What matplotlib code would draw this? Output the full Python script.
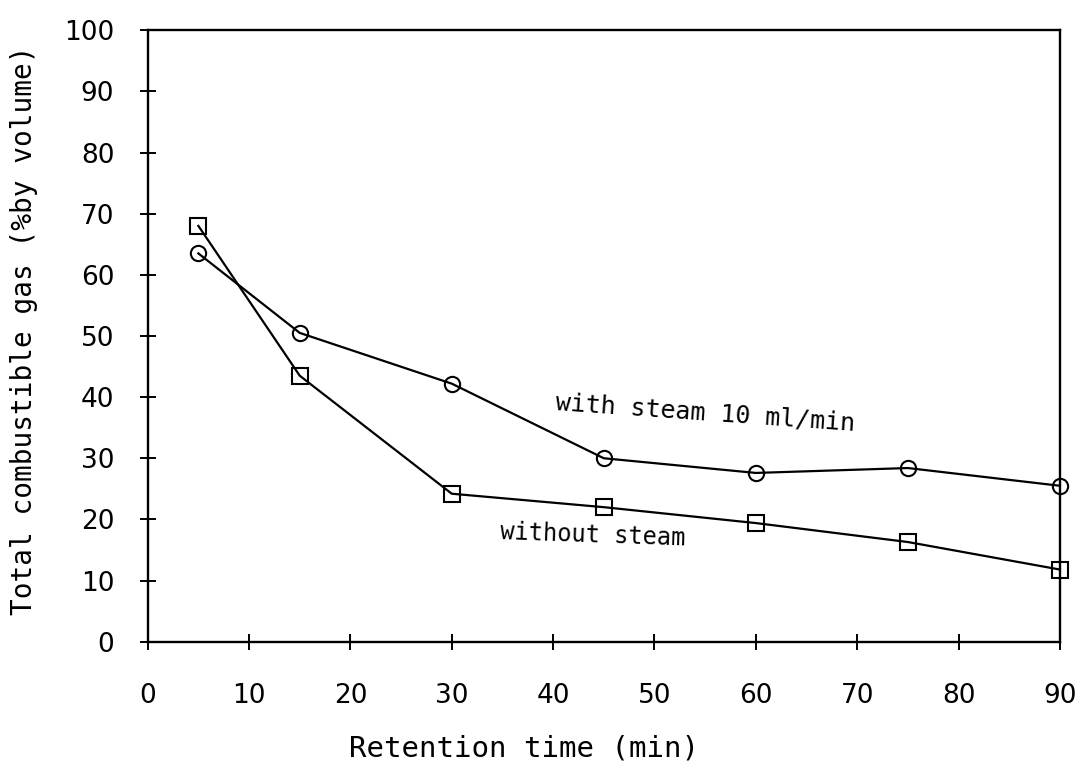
import numpy as np
import matplotlib
matplotlib.use("Agg")
import matplotlib.pyplot as plt

# retention time (min) and total combustible gas (% by volume)
times = [5, 15, 30, 45, 60, 75, 90]
with_steam = [63.5, 50.5, 42.2, 30.0, 27.6, 28.4, 25.5]
without_steam = [68.0, 43.5, 24.2, 22.0, 19.4, 16.3, 11.8]

xticks = [0, 10, 20, 30, 40, 50, 60, 70, 80, 90]
yticks = [0, 10, 20, 30, 40, 50, 60, 70, 80, 90, 100]

mono = "DejaVu Sans Mono"
narrow = ["Liberation Sans Narrow", "DejaVu Sans"]

fig = plt.figure(figsize=(10.86, 7.75), dpi=100)
ax = fig.add_axes([0.136, 0.172, 0.840, 0.789])

ax.plot(times, with_steam, color="black", lw=1.6, marker="o", ms=11,
        mfc="none", mec="black", mew=1.5, clip_on=False)
ax.plot(times, without_steam, color="black", lw=1.6, marker="s", ms=11,
        mfc="none", mec="black", mew=1.5, clip_on=False)

ax.set_xlim(0, 90)
ax.set_ylim(0, 100)
ax.set_xticks(xticks)
ax.set_yticks(yticks)
ax.set_xticklabels([str(t) for t in xticks], fontsize=19, family=narrow)
ax.set_yticklabels([str(t) for t in yticks], fontsize=19, family=narrow)
ax.tick_params(axis="both", direction="inout", length=12, width=1.4)
ax.tick_params(axis="x", pad=24)
ax.tick_params(axis="y", pad=18)
for s in ax.spines.values():
    s.set_linewidth(1.7)

ax.set_xlabel("Retention time (min)", fontsize=21, family=mono)
ax.set_ylabel("Total combustible gas (%by volume)", fontsize=20, family=mono)
# the scanned labels sit a little off the axis centres
ax.xaxis.set_label_coords(0.413, -0.152)
ax.yaxis.set_label_coords(-0.12, 0.51)

ax.text(40.2, 37.4, "with steam 10 ml/min", fontsize=18, family=mono,
        rotation=-4, ha="left", va="center")
ax.text(34.7, 17.4, "without steam", fontsize=17, family=mono,
        rotation=-2, ha="left", va="center")

fig.savefig("out.png", dpi=100)
